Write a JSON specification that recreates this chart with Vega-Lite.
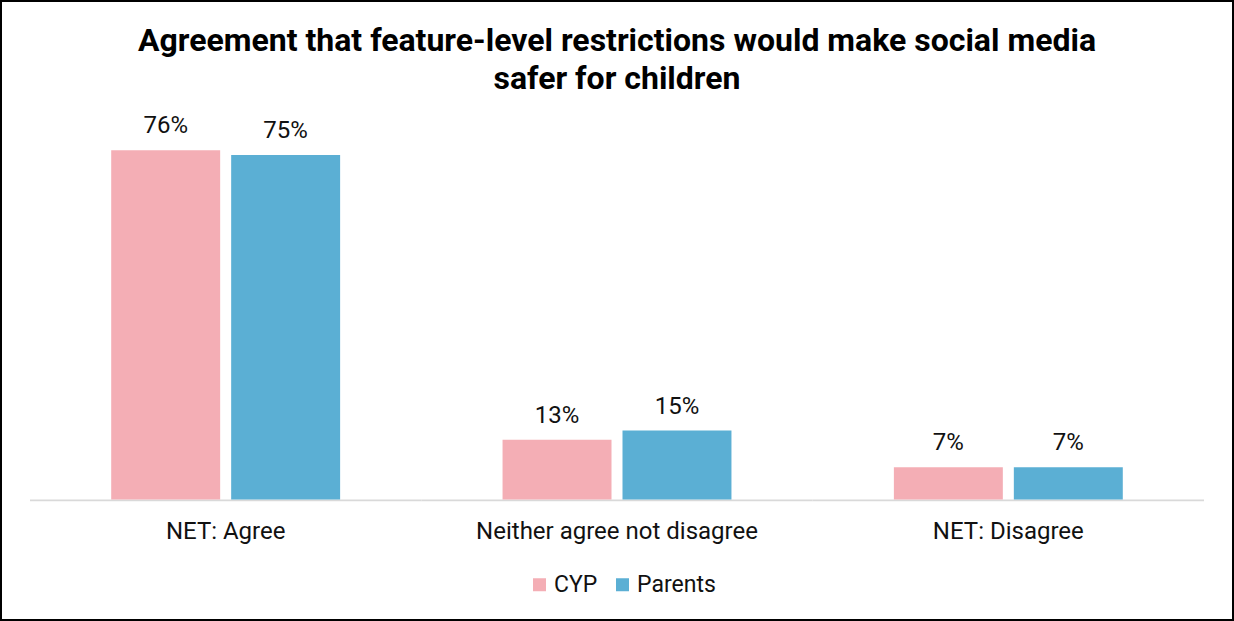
{
  "$schema": "https://vega.github.io/schema/vega-lite/v6.json",
  "width": 1232,
  "height": 619,
  "autosize": "none",
  "padding": 1,
  "background": "white",
  "config": {
    "view": {"stroke": "black", "strokeWidth": 2},
    "font": "Roboto"
  },
  "title": {
    "text": ["Agreement that feature-level restrictions would make social media", "safer for children"],
    "font": "Roboto",
    "fontSize": 32,
    "fontWeight": "bold",
    "color": "#000000",
    "lineHeight": 38,
    "anchor": "middle",
    "frame": "group",
    "baseline": "alphabetic",
    "offset": -120
  },
  "datasets": {
    "bars": [
      {"category": "NET: Agree", "group": "CYP", "value": 76, "label": "76%"},
      {"category": "NET: Agree", "group": "Parents", "value": 75, "label": "75%"},
      {"category": "Neither agree not disagree", "group": "CYP", "value": 13, "label": "13%"},
      {"category": "Neither agree not disagree", "group": "Parents", "value": 15, "label": "15%"},
      {"category": "NET: Disagree", "group": "CYP", "value": 7, "label": "7%"},
      {"category": "NET: Disagree", "group": "Parents", "value": 7, "label": "7%"}
    ],
    "cats": [
      {"category": "NET: Agree"},
      {"category": "Neither agree not disagree"},
      {"category": "NET: Disagree"}
    ]
  },
  "layer": [
    {
      "data": {"name": "cats"},
      "mark": {"type": "bar", "color": "#d9d9d9"},
      "encoding": {
        "x": {
          "field": "category",
          "type": "nominal",
          "axis": null,
          "scale": {
            "domain": ["NET: Agree", "Neither agree not disagree", "NET: Disagree"],
            "paddingInner": 0,
            "paddingOuter": 0.0741
          }
        },
        "y": {"datum": 0.02, "type": "quantitative", "scale": {"domain": [-26.22, 108.49], "nice": false}, "axis": null},
        "y2": {"datum": -0.35}
      }
    },
    {
      "data": {"name": "bars"},
      "mark": {"type": "bar"},
      "encoding": {
        "x": {"field": "category", "type": "nominal"},
        "xOffset": {
          "field": "group",
          "type": "nominal",
          "scale": {"domain": ["CYP", "Parents"], "paddingInner": 0.0917, "paddingOuter": 0.677}
        },
        "y": {"field": "value", "type": "quantitative"},
        "y2": {"datum": 0},
        "color": {
          "field": "group",
          "type": "nominal",
          "scale": {"domain": ["CYP", "Parents"], "range": ["#F4AEB5", "#5BAFD4"]},
          "legend": {
            "orient": "none",
            "legendX": 527,
            "legendY": 572,
            "direction": "horizontal",
            "title": null,
            "symbolType": "square",
            "symbolSize": 169,
            "symbolStrokeWidth": 0,
            "labelFont": "Roboto",
            "labelFontSize": 23,
            "labelColor": "#111111",
            "labelOffset": 3,
            "columnPadding": 13,
            "padding": 0
          }
        }
      }
    },
    {
      "data": {"name": "bars"},
      "mark": {"type": "text", "baseline": "alphabetic", "dy": -17, "fontSize": 24, "font": "Roboto", "color": "#111111"},
      "encoding": {
        "x": {"field": "category", "type": "nominal"},
        "xOffset": {"field": "group", "type": "nominal"},
        "y": {"field": "value", "type": "quantitative"},
        "text": {"field": "label"}
      }
    },
    {
      "data": {"name": "cats"},
      "mark": {"type": "text", "baseline": "alphabetic", "fontSize": 24, "font": "Roboto", "color": "#111111"},
      "encoding": {
        "x": {"field": "category", "type": "nominal"},
        "y": {"datum": -8.6, "type": "quantitative"},
        "text": {"field": "category"}
      }
    }
  ]
}
